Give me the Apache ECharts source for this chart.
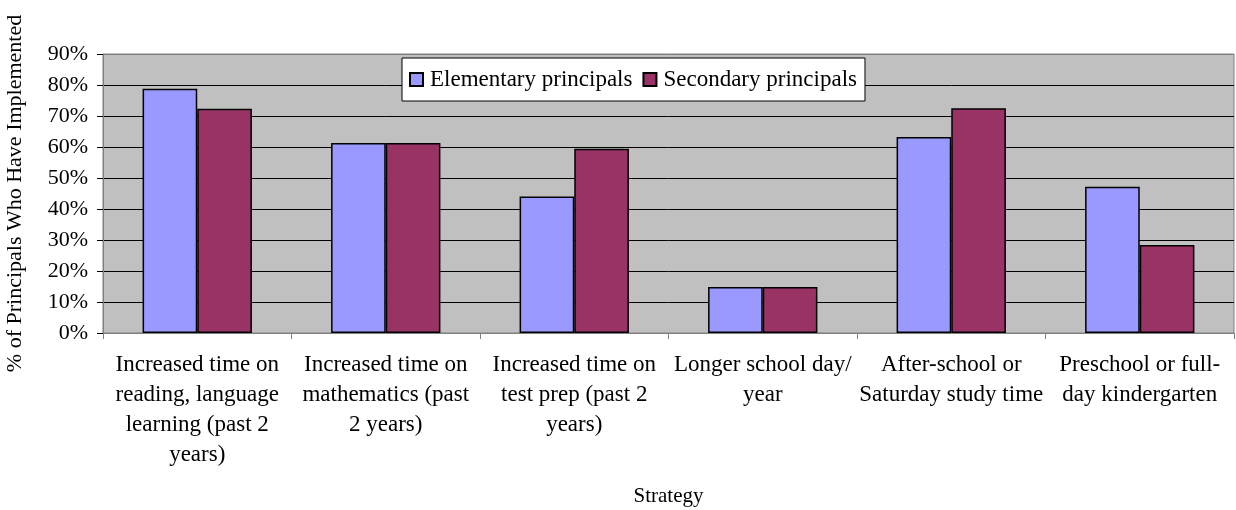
<!DOCTYPE html>
<html>
<head>
<meta charset="utf-8">
<script src="https://cdn.jsdelivr.net/npm/echarts@6/dist/echarts.min.js"></script>
<style>
html,body{margin:0;padding:0;background:#fff;}
#chart{width:1236px;height:510px;}
</style>
</head>
<body>
<div id="chart"></div>
<script>
const categories = [
  "Increased time on\nreading, language\nlearning (past 2\nyears)",
  "Increased time on\nmathematics (past\n2 years)",
  "Increased time on\ntest prep (past 2\nyears)",
  "Longer school day/\nyear",
  "After-school or\nSaturday study time",
  "Preschool or full-\nday kindergarten"
];
const elementary = [78.8, 61.3, 44.0, 14.8, 63.2, 47.2];
const secondary = [72.3, 61.3, 59.4, 14.8, 72.5, 28.4];
const yTicks = [0, 10, 20, 30, 40, 50, 60, 70, 80, 90];
const seriesNames = ["Elementary principals", "Secondary principals"];

const FONT = "'Liberation Serif', 'Times New Roman', serif";
const chart = echarts.init(document.getElementById('chart'));
chart.setOption({
  animation: false,
  textStyle: { fontFamily: FONT, color: '#000' },
  grid: {
    left: 103, right: 2, top: 54, bottom: 177,
    outerBoundsMode: 'none', containLabel: false,
    show: true, backgroundColor: '#C0C0C0', borderColor: '#808080', borderWidth: 1
  },
  legend: {
    data: seriesNames,
    icon: 'rect',
    left: 402, top: 58,
    backgroundColor: '#fff', borderColor: '#000', borderWidth: 1,
    padding: [10, 8, 10, 7],
    itemWidth: 13, itemHeight: 13, itemGap: 10,
    textStyle: { fontFamily: FONT, fontSize: 23, color: '#000', padding: [0, 0, 0, 2] }
  },
  xAxis: {
    type: 'category',
    data: categories,
    name: 'Strategy',
    nameLocation: 'middle',
    nameGap: 153,
    nameTextStyle: { fontFamily: FONT, fontSize: 21, color: '#000' },
    axisLine: { lineStyle: { color: '#808080', width: 1 } },
    axisTick: { show: true, length: 6, lineStyle: { color: '#808080' } },
    axisLabel: {
      interval: 0, margin: 17, fontFamily: FONT, fontSize: 23, lineHeight: 30, color: '#000'
    },
    splitLine: { show: false }
  },
  yAxis: {
    type: 'value',
    min: 0, max: 90, interval: 10,
    name: '% of Principals Who Have Implemented',
    nameLocation: 'middle',
    nameGap: 77,
    nameTextStyle: { fontFamily: FONT, fontSize: 22, color: '#000' },
    axisLine: { show: true, lineStyle: { color: '#808080', width: 1 } },
    axisTick: { show: true, length: 6, lineStyle: { color: '#000' } },
    axisLabel: {
      margin: 15, fontFamily: FONT, fontSize: 22, color: '#000',
      formatter: function (v) { return yTicks.indexOf(v) >= 0 ? v + '%' : ''; }
    },
    splitLine: {
      show: true,
      lineStyle: { color: ['#808080','#000','#000','#000','#000','#000','#000','#000','#000','#808080'], width: 1 }
    }
  },
  series: [
    {
      name: seriesNames[0], type: 'bar', data: elementary,
      barGap: '0%', barCategoryGap: '42%',
      itemStyle: { color: '#9999FF', borderColor: '#000', borderWidth: 1.5 }
    },
    {
      name: seriesNames[1], type: 'bar', data: secondary,
      itemStyle: { color: '#993366', borderColor: '#000', borderWidth: 1.5 }
    }
  ]
});
</script>
</body>
</html>
